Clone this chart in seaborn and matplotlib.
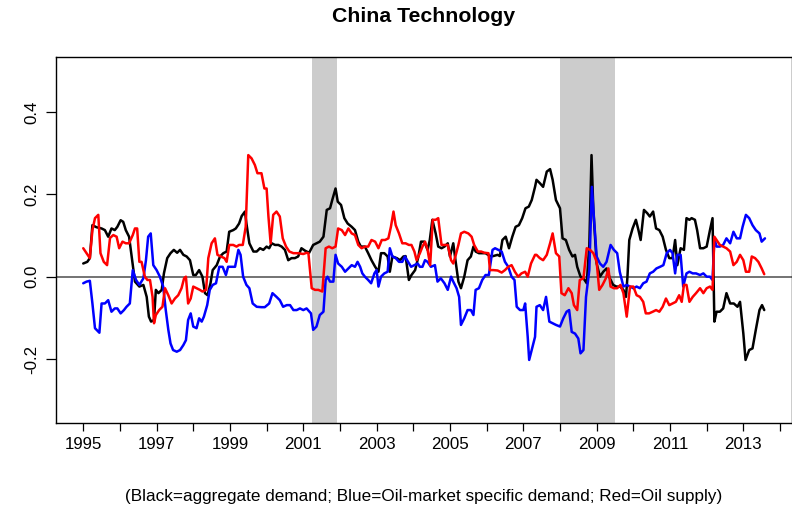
import numpy as np
import pandas as pd
import matplotlib
matplotlib.use("Agg")
import matplotlib.pyplot as plt
import seaborn as sns

# values (decimal year, response)
black_t = [1995.00, 1995.11, 1995.18, 1995.25, 1995.36, 1995.50, 1995.59, 1995.68, 1995.77, 1995.86,
           1995.93, 1996.02, 1996.09, 1996.16, 1996.25, 1996.32, 1996.41, 1996.53, 1996.64, 1996.73,
           1996.79, 1996.85, 1996.93, 1996.98, 1997.05, 1997.14, 1997.20, 1997.29, 1997.38, 1997.47,
           1997.56, 1997.64, 1997.73, 1997.82, 1997.91, 1998.00, 1998.07, 1998.16, 1998.25, 1998.32,
           1998.39, 1998.47, 1998.53, 1998.64, 1998.73, 1998.82, 1998.91, 1998.98, 1999.09, 1999.16,
           1999.25, 1999.32, 1999.41, 1999.45, 1999.53, 1999.64, 1999.73, 1999.82, 1999.91, 2000.00,
           2000.07, 2000.14, 2000.23, 2000.32, 2000.41, 2000.50, 2000.59, 2000.68, 2000.77, 2000.86,
           2000.95, 2001.05, 2001.16,
           2001.27, 2001.36, 2001.45, 2001.55, 2001.64, 2001.73, 2001.79, 2001.88, 2001.94, 2002.03,
           2002.12, 2002.21, 2002.32, 2002.41, 2002.50, 2002.57, 2002.68, 2002.77, 2002.86, 2002.96,
           2003.05, 2003.12, 2003.21, 2003.30, 2003.36, 2003.43, 2003.55, 2003.64, 2003.73, 2003.79,
           2003.88, 2003.95, 2004.05, 2004.14, 2004.21, 2004.30, 2004.39, 2004.45, 2004.52, 2004.61,
           2004.68, 2004.77, 2004.85, 2004.94, 2005.00, 2005.09, 2005.15, 2005.23, 2005.30, 2005.39,
           2005.48, 2005.57, 2005.64, 2005.70, 2005.79, 2005.88, 2005.97, 2006.09, 2006.18, 2006.30,
           2006.36, 2006.43, 2006.52, 2006.61, 2006.70, 2006.79, 2006.88, 2006.97, 2007.06, 2007.15,
           2007.23, 2007.32,
           2007.36, 2007.45, 2007.54, 2007.64, 2007.73, 2007.80, 2007.89, 2008.00, 2008.07, 2008.16,
           2008.25, 2008.34, 2008.41, 2008.47, 2008.56, 2008.64, 2008.73, 2008.80, 2008.86, 2008.91,
           2009.00, 2009.09, 2009.18, 2009.27, 2009.36, 2009.45, 2009.54, 2009.64, 2009.73, 2009.80,
           2009.84, 2009.89, 2009.98, 2010.07, 2010.14, 2010.20, 2010.29, 2010.38, 2010.45, 2010.54,
           2010.62, 2010.71, 2010.80, 2010.89, 2010.98, 2011.07, 2011.14, 2011.20, 2011.29, 2011.38,
           2011.45, 2011.53, 2011.59, 2011.68, 2011.74, 2011.82, 2011.91, 2012.00, 2012.09, 2012.16,
           2012.21, 2012.27, 2012.36, 2012.45, 2012.54, 2012.64, 2012.74, 2012.84, 2012.91, 2013.00,
           2013.06, 2013.16, 2013.25, 2013.34, 2013.44, 2013.51, 2013.57]
black_v = [0.032, 0.036, 0.045, 0.125, 0.120, 0.117, 0.113, 0.097, 0.117, 0.113,
           0.121, 0.137, 0.133, 0.113, 0.097, 0.049, -0.012, -0.024, -0.020, -0.049,
           -0.097, -0.109, -0.105, -0.032, -0.040, -0.032, 0.008, 0.045, 0.057, 0.065,
           0.058, 0.065, 0.053, 0.049, 0.040, 0.004, 0.004, 0.016, 0.000, -0.040,
           -0.045, -0.016, 0.016, 0.028, 0.049, 0.057, 0.061, 0.109, 0.113, 0.117,
           0.129, 0.147, 0.158, 0.129, 0.081, 0.061, 0.061, 0.069, 0.065, 0.073,
           0.069, 0.081, 0.077, 0.077, 0.073, 0.065, 0.040, 0.045, 0.045, 0.049,
           0.069, 0.063, 0.058,
           0.077, 0.081, 0.085, 0.097, 0.162, 0.166, 0.186, 0.214, 0.182, 0.174,
           0.142, 0.129, 0.121, 0.113, 0.085, 0.073, 0.073, 0.057, 0.040, 0.024,
           0.012, 0.057, 0.057, 0.049, 0.012, 0.049, 0.045, 0.040, 0.049, 0.050,
           -0.008, 0.004, 0.016, 0.049, 0.085, 0.085, 0.065, 0.089, 0.138, 0.105,
           0.073, 0.069, 0.073, 0.081, 0.049, 0.081, 0.040, -0.012, -0.028, 0.000,
           0.040, 0.049, 0.073, 0.061, 0.057, 0.057, 0.057, 0.050, 0.050, 0.053,
           0.050, 0.089, 0.097, 0.069, 0.097, 0.121, 0.125, 0.142, 0.166, 0.170,
           0.186, 0.218,
           0.235, 0.227, 0.218, 0.255, 0.261, 0.235, 0.186, 0.166, 0.093, 0.089,
           0.065, 0.049, 0.053, 0.024, 0.000, -0.004, -0.016, 0.077, 0.295, 0.162,
           0.032, 0.000, 0.012, 0.020, -0.004, -0.020, -0.024, -0.024, -0.032, -0.049,
           0.000, 0.089, 0.117, 0.138, 0.113, 0.089, 0.162, 0.154, 0.146, 0.158,
           0.117, 0.113, 0.097, 0.065, 0.045, 0.045, 0.089, 0.028, 0.069, 0.065,
           0.142, 0.138, 0.142, 0.138, 0.113, 0.069, 0.069, 0.073, 0.113, 0.142,
           -0.109, -0.085, -0.085, -0.077, -0.040, -0.065, -0.065, -0.073, -0.061, -0.138,
           -0.202, -0.178, -0.174, -0.129, -0.081, -0.069, -0.081]

blue_t = [1995.00, 1995.09, 1995.18, 1995.25, 1995.32, 1995.44, 1995.50, 1995.59, 1995.68, 1995.77,
          1995.86, 1995.93, 1996.02, 1996.11, 1996.18, 1996.27, 1996.35, 1996.44, 1996.53, 1996.64,
          1996.71, 1996.77, 1996.84, 1996.91, 1997.00, 1997.09, 1997.18, 1997.25, 1997.32, 1997.38,
          1997.45, 1997.55, 1997.64, 1997.73, 1997.80, 1997.86, 1997.93, 1998.00, 1998.09, 1998.16,
          1998.23, 1998.29, 1998.38, 1998.45, 1998.53, 1998.62, 1998.71, 1998.80, 1998.89, 1998.95,
          1999.05, 1999.14, 1999.23, 1999.29, 1999.36, 1999.45, 1999.53, 1999.62, 1999.73, 1999.86,
          1999.95, 2000.07, 2000.16, 2000.27, 2000.36, 2000.45, 2000.55, 2000.64, 2000.73, 2000.82,
          2000.91, 2001.00, 2001.09,
          2001.21, 2001.27, 2001.36, 2001.45, 2001.55, 2001.61, 2001.66, 2001.73, 2001.82, 2001.88,
          2001.95, 2002.05, 2002.14, 2002.23, 2002.32, 2002.41, 2002.48, 2002.55, 2002.61, 2002.68,
          2002.77, 2002.85, 2002.94, 2003.00, 2003.05, 2003.12, 2003.21, 2003.30, 2003.36, 2003.43,
          2003.52, 2003.61, 2003.70, 2003.77, 2003.86, 2003.94, 2004.03, 2004.12, 2004.18, 2004.25,
          2004.32, 2004.39, 2004.48, 2004.59, 2004.66, 2004.75, 2004.85, 2004.94, 2005.03, 2005.09,
          2005.18, 2005.25, 2005.30, 2005.39, 2005.48, 2005.57, 2005.64, 2005.70, 2005.79, 2005.88,
          2005.97, 2006.06, 2006.16, 2006.23, 2006.32, 2006.41, 2006.50, 2006.59, 2006.68, 2006.76,
          2006.82, 2006.91, 2007.00, 2007.05, 2007.12, 2007.16, 2007.25, 2007.32,
          2007.36, 2007.45, 2007.54, 2007.62, 2007.71, 2007.80, 2007.89, 2008.00, 2008.09, 2008.18,
          2008.25, 2008.32, 2008.41, 2008.50, 2008.56, 2008.64, 2008.71, 2008.80, 2008.87, 2008.93,
          2009.00, 2009.09, 2009.18, 2009.27, 2009.38, 2009.47, 2009.56, 2009.63, 2009.73, 2009.82,
          2009.91, 2010.00, 2010.09, 2010.18, 2010.27, 2010.36, 2010.45, 2010.54, 2010.63, 2010.73,
          2010.82, 2010.91, 2011.00, 2011.07, 2011.14, 2011.20, 2011.29, 2011.36, 2011.45, 2011.53,
          2011.62, 2011.71, 2011.82, 2011.91, 2012.00, 2012.09, 2012.16, 2012.21, 2012.27, 2012.36,
          2012.45, 2012.54, 2012.64, 2012.73, 2012.82, 2012.91, 2012.98, 2013.07, 2013.16, 2013.25,
          2013.34, 2013.44, 2013.50, 2013.59]
blue_v = [-0.016, -0.012, -0.010, -0.065, -0.125, -0.136, -0.065, -0.065, -0.057, -0.085,
          -0.077, -0.077, -0.089, -0.081, -0.073, -0.065, 0.016, -0.008, -0.020, -0.004,
          0.040, 0.097, 0.105, 0.028, 0.016, 0.000, -0.024, -0.081, -0.129, -0.162,
          -0.178, -0.182, -0.178, -0.166, -0.154, -0.105, -0.089, -0.121, -0.125, -0.101,
          -0.109, -0.097, -0.069, -0.032, -0.020, -0.016, 0.024, 0.024, 0.004, 0.024,
          0.024, 0.024, 0.065, 0.053, 0.000, -0.020, -0.028, -0.065, -0.073, -0.074,
          -0.074, -0.065, -0.040, -0.049, -0.057, -0.073, -0.069, -0.069, -0.081, -0.081,
          -0.077, -0.081, -0.077,
          -0.089, -0.129, -0.121, -0.093, -0.085, -0.008, 0.000, -0.012, -0.012, 0.053,
          0.032, 0.024, 0.012, 0.020, 0.028, 0.024, 0.036, 0.024, 0.008, 0.000,
          -0.008, -0.016, 0.008, 0.016, -0.024, 0.000, 0.008, 0.012, 0.069, 0.049,
          0.045, 0.036, 0.036, 0.049, 0.036, 0.024, 0.028, 0.032, 0.024, 0.024,
          0.040, 0.036, 0.024, 0.028, -0.012, -0.004, -0.016, -0.032, 0.000, -0.012,
          -0.028, -0.049, -0.117, -0.101, -0.081, -0.081, -0.093, -0.032, -0.028, -0.008,
          0.004, 0.004, 0.065, 0.069, 0.065, 0.061, 0.036, 0.024, 0.000, -0.008,
          -0.073, -0.081, -0.081, -0.065, -0.146, -0.202, -0.170, -0.146,
          -0.073, -0.069, -0.081, -0.049, -0.109, -0.113, -0.117, -0.121, -0.101, -0.085,
          -0.081, -0.134, -0.138, -0.150, -0.186, -0.178, -0.049, 0.016, 0.218, 0.138,
          0.049, 0.032, 0.024, 0.036, 0.077, 0.065, 0.057, 0.012, -0.024, -0.020,
          -0.024, -0.028, -0.024, -0.028, -0.016, -0.012, 0.008, 0.012, 0.020, 0.024,
          0.028, 0.057, 0.065, 0.057, 0.008, 0.053, 0.053, -0.024, 0.008, 0.012,
          0.008, 0.008, 0.004, 0.008, 0.000, 0.000, -0.008, 0.093, 0.073, 0.073,
          0.077, 0.093, 0.081, 0.109, 0.093, 0.093, 0.121, 0.150, 0.142, 0.125,
          0.113, 0.105, 0.085, 0.093]

red_t = [1995.00, 1995.09, 1995.18, 1995.25, 1995.32, 1995.41, 1995.47, 1995.56, 1995.65, 1995.73,
         1995.82, 1995.91, 1995.98, 1996.07, 1996.16, 1996.25, 1996.35, 1996.41, 1996.47, 1996.53,
         1996.59, 1996.68, 1996.75, 1996.82, 1996.89, 1996.93, 1996.98, 1997.07, 1997.16, 1997.23,
         1997.32, 1997.41, 1997.50, 1997.59, 1997.68, 1997.75, 1997.80, 1997.86, 1997.93, 1998.00,
         1998.09, 1998.18, 1998.25, 1998.35, 1998.41, 1998.50, 1998.59, 1998.66, 1998.75, 1998.85,
         1998.91, 1998.98, 1999.09, 1999.18, 1999.25, 1999.35, 1999.43, 1999.50, 1999.59, 1999.68,
         1999.75, 1999.86, 1999.94, 2000.00, 2000.05, 2000.11, 2000.18, 2000.27, 2000.36, 2000.44,
         2000.53, 2000.62, 2000.73, 2000.86, 2001.00, 2001.09,
         2001.14, 2001.23, 2001.32, 2001.41, 2001.52, 2001.61, 2001.70, 2001.79, 2001.88, 2001.95,
         2002.05, 2002.14, 2002.23, 2002.32, 2002.41, 2002.50, 2002.59, 2002.68, 2002.77, 2002.86,
         2002.96, 2003.05, 2003.14, 2003.23, 2003.32, 2003.39, 2003.46, 2003.52, 2003.61, 2003.70,
         2003.79, 2003.88, 2003.95, 2004.03, 2004.09, 2004.18, 2004.25, 2004.32, 2004.39, 2004.46,
         2004.53, 2004.61, 2004.68, 2004.77, 2004.85, 2004.94, 2005.03, 2005.09, 2005.16, 2005.23,
         2005.30, 2005.39, 2005.50, 2005.59, 2005.66, 2005.76, 2005.85, 2005.94, 2006.05, 2006.09,
         2006.18, 2006.30, 2006.41, 2006.50, 2006.59, 2006.68, 2006.77, 2006.86, 2006.95, 2007.05,
         2007.12, 2007.21, 2007.32,
         2007.36, 2007.45, 2007.54, 2007.64, 2007.73, 2007.80, 2007.89, 2007.98, 2008.04, 2008.13,
         2008.23, 2008.32, 2008.38, 2008.47, 2008.54, 2008.64, 2008.73, 2008.82, 2008.91, 2009.00,
         2009.07, 2009.16, 2009.25, 2009.32, 2009.38, 2009.47, 2009.56, 2009.65, 2009.73, 2009.82,
         2009.91, 2010.00, 2010.09, 2010.18, 2010.27, 2010.34, 2010.43, 2010.53, 2010.62, 2010.71,
         2010.80, 2010.89, 2010.98, 2011.07, 2011.16, 2011.25, 2011.32, 2011.38, 2011.45, 2011.53,
         2011.62, 2011.71, 2011.82, 2011.91, 2012.00, 2012.09, 2012.16, 2012.21, 2012.27, 2012.36,
         2012.45, 2012.54, 2012.64, 2012.73, 2012.82, 2012.91, 2013.00, 2013.07, 2013.16, 2013.23,
         2013.32, 2013.41, 2013.50, 2013.57]
red_v = [0.069, 0.057, 0.045, 0.113, 0.142, 0.150, 0.057, 0.036, 0.028, 0.094,
         0.101, 0.097, 0.069, 0.085, 0.081, 0.081, 0.101, 0.117, 0.117, 0.036,
         0.036, 0.000, -0.008, -0.008, -0.049, -0.113, -0.093, -0.081, -0.073, -0.028,
         -0.045, -0.065, -0.053, -0.045, -0.028, -0.004, 0.000, -0.065, -0.053, -0.024,
         -0.028, -0.032, -0.036, -0.032, 0.045, 0.081, 0.093, 0.053, 0.049, 0.045,
         0.036, 0.077, 0.077, 0.073, 0.077, 0.077, 0.121, 0.295, 0.287, 0.271,
         0.251, 0.251, 0.214, 0.214, 0.146, 0.081, 0.150, 0.158, 0.146, 0.093,
         0.073, 0.061, 0.057, 0.057, 0.055, 0.058,
         0.057, -0.028, -0.032, -0.032, -0.036, 0.069, 0.073, 0.069, 0.073, 0.117,
         0.113, 0.101, 0.117, 0.105, 0.101, 0.077, 0.069, 0.073, 0.073, 0.089,
         0.085, 0.069, 0.089, 0.089, 0.093, 0.121, 0.158, 0.125, 0.105, 0.081,
         0.081, 0.077, 0.077, 0.061, 0.040, 0.057, 0.073, 0.085, 0.065, 0.028,
         0.138, 0.138, 0.142, 0.077, 0.077, 0.077, 0.040, 0.032, 0.053, 0.077,
         0.105, 0.109, 0.105, 0.097, 0.077, 0.061, 0.061, 0.058, 0.057, 0.016,
         0.016, 0.015, 0.010, 0.016, 0.024, 0.028, 0.012, 0.000, 0.008, 0.012,
         0.000, 0.032, 0.053,
         0.053, 0.045, 0.040, 0.053, 0.081, 0.105, 0.057, 0.049, -0.040, -0.045,
         -0.028, -0.040, -0.069, -0.081, -0.008, -0.004, 0.069, 0.065, 0.057, 0.036,
         -0.032, -0.020, -0.004, 0.020, -0.024, -0.028, -0.028, -0.020, -0.040, -0.097,
         -0.024, -0.024, -0.045, -0.049, -0.061, -0.089, -0.089, -0.085, -0.081, -0.085,
         -0.073, -0.053, -0.069, -0.065, -0.061, -0.045, -0.061, -0.020, -0.020, -0.061,
         -0.049, -0.040, -0.028, -0.040, -0.028, -0.024, -0.032, 0.097, 0.089, 0.077,
         0.073, 0.069, 0.061, 0.028, 0.036, 0.053, 0.040, 0.012, 0.012, 0.049,
         0.045, 0.036, 0.020, 0.006]

recessions = [(2001.25, 2001.92), (2008.0, 2009.5)]
year_ticks = list(range(1995, 2015))
y_ticks = [-0.2, 0.0, 0.2, 0.4]
title = "China Technology"
caption = "(Black=aggregate demand; Blue=Oil-market specific demand; Red=Oil supply)"

df = pd.concat([
    pd.DataFrame({"t": black_t, "v": black_v, "s": "black"}),
    pd.DataFrame({"t": blue_t, "v": blue_v, "s": "blue"}),
    pd.DataFrame({"t": red_t, "v": red_v, "s": "red"}),
])

sns.set_theme(style="ticks")
plt.rcParams["font.family"] = ["Liberation Sans", "DejaVu Sans"]
plt.rcParams["text.color"] = "black"

fig = plt.figure(figsize=(7.92, 5.14), dpi=100)
ax = fig.add_axes([56 / 792, 1 - 423 / 514, 1 - 56 / 792, 366 / 514])

# shaded recession bands and the zero line under the series
for a, b in recessions:
    ax.axvspan(a, b, color="#cccccc", lw=0, zorder=0)
ax.axhline(0, color="#4d4d4d", lw=1.1, zorder=1)

sns.lineplot(data=df, x="t", y="v", hue="s",
             palette={"black": "black", "blue": "blue", "red": "red"},
             estimator=None, sort=False, lw=1.8, legend=False, ax=ax, zorder=2)

ax.set_xlim(1994.257, 2014.327)
ax.set_ylim(-0.355, 0.533)
ax.set_xticks(year_ticks)
ax.set_xticklabels([str(y) if y % 2 == 1 else "" for y in year_ticks])
ax.set_yticks(y_ticks)
ax.set_yticklabels([f"{y:.1f}" for y in y_ticks], rotation=90, va="center")
ax.tick_params(axis="both", width=0.9, color="black", labelsize=12.2,
               labelcolor="black", direction="out")
ax.tick_params(axis="x", length=6, pad=4)
ax.tick_params(axis="y", length=7, pad=5)
ax.set_xlabel("")
ax.set_ylabel("")
for sp in ax.spines.values():
    sp.set_visible(True)
    sp.set_color("black")
    sp.set_linewidth(1.0)

fig.text(424 / 792, 1 - 17 / 514, title, ha="center", va="center",
         fontsize=15.3, fontweight="bold", color="black")
fig.text(424 / 792, 1 - 497 / 514, caption, ha="center", va="center",
         fontsize=12.3, color="black")

fig.savefig("out.png", dpi=100)
